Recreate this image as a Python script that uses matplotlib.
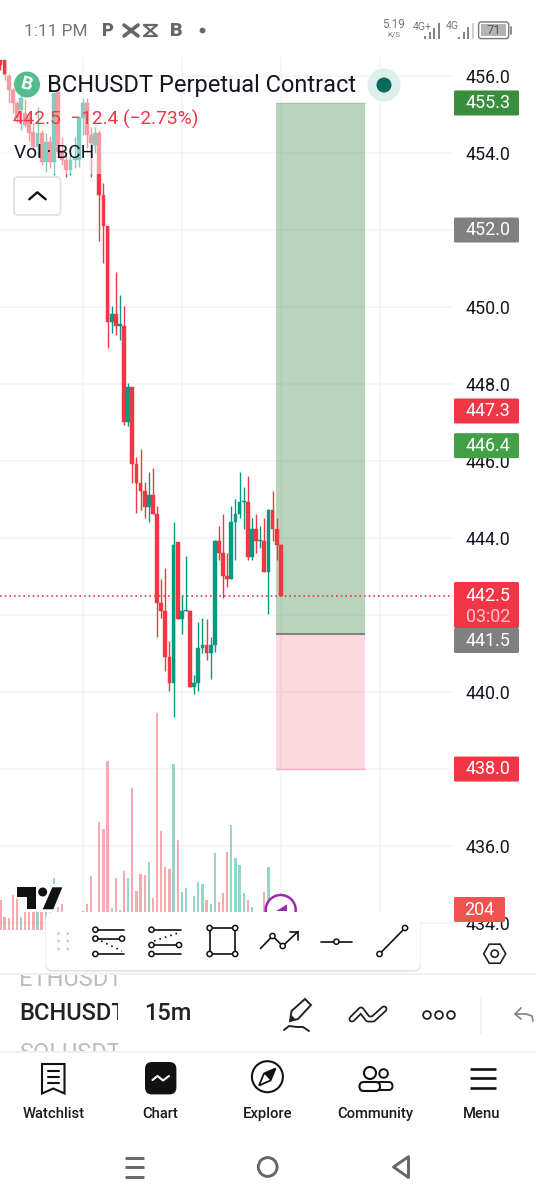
import matplotlib
matplotlib.use('Agg')
import numpy as np
import matplotlib.pyplot as plt
from matplotlib.patches import Rectangle, Circle, FancyBboxPatch, Polygon, RegularPolygon

plt.rcParams['font.family'] = ['Roboto', 'DejaVu Sans']

# 15m candles
opens = [456.42, 456.42, 456.00, 455.64, 455.30, 455.12, 455.04, 454.91, 454.55, 454.16,
         454.52, 453.77, 454.29, 453.77, 455.58, 454.03, 453.82, 453.56, 453.82, 453.82,
         454.91, 455.30, 454.47, 454.21, 454.52, 452.91, 452.11, 449.62, 449.81, 449.52,
         449.52, 447.02, 447.93, 445.92, 445.42, 445.23, 444.81, 445.12, 444.63, 442.32,
         442.11, 440.92, 440.23, 443.90, 441.91, 442.11, 442.11, 440.12, 440.23, 441.14,
         441.22, 441.02, 441.22, 443.92, 443.62, 443.02, 442.93, 444.42, 444.62, 444.93,
         444.93, 443.51, 444.23, 443.92, 443.92, 443.11, 444.73, 444.23, 443.82]
highs = [456.42, 456.42, 456.05, 455.70, 455.35, 455.50, 455.40, 455.04, 454.80, 455.20,
         454.60, 454.52, 454.45, 455.58, 455.65, 454.42, 454.03, 453.95, 454.42, 454.91,
         455.43, 455.43, 454.68, 454.68, 454.60, 453.22, 452.11, 450.03, 450.92, 450.31,
         450.03, 448.03, 447.93, 446.11, 446.30, 445.46, 445.71, 445.83, 444.83, 442.93,
         443.21, 441.32, 444.42, 443.90, 442.52, 443.53, 442.13, 440.44, 441.83, 441.92,
         441.91, 441.43, 443.95, 444.32, 444.62, 443.62, 444.83, 445.01, 445.71, 445.33,
         445.62, 444.51, 444.62, 444.32, 444.51, 444.75, 445.23, 444.51, 443.85]
lows = [456.16, 455.90, 455.30, 455.04, 454.78, 454.60, 454.68, 454.30, 454.05, 453.90,
        453.70, 453.51, 453.60, 453.43, 453.87, 453.69, 453.38, 453.43, 453.61, 453.64,
        454.47, 454.13, 453.38, 454.00, 451.71, 451.14, 448.94, 449.33, 449.27, 449.14,
        446.94, 446.92, 445.44, 444.65, 444.73, 444.53, 444.42, 444.63, 441.44, 441.93,
        440.55, 440.03, 439.34, 441.91, 441.52, 442.11, 440.12, 439.94, 440.03, 441.01,
        440.83, 440.33, 441.03, 443.43, 442.43, 442.72, 442.93, 443.43, 444.53, 444.23,
        443.43, 443.43, 443.62, 443.73, 443.11, 442.03, 443.92, 443.43, 442.50]
closes = [456.29, 456.03, 455.64, 455.30, 454.91, 455.43, 454.73, 454.52, 454.16, 454.52,
          453.77, 454.29, 453.77, 455.56, 454.03, 453.82, 453.56, 453.82, 453.87, 454.91,
          455.30, 454.47, 454.26, 454.52, 452.91, 452.11, 449.62, 449.81, 449.52, 449.56,
          447.02, 447.93, 445.92, 445.42, 445.23, 444.81, 445.12, 444.63, 442.32, 442.11,
          440.92, 440.23, 443.82, 441.91, 442.11, 442.13, 440.12, 440.23, 441.14, 441.22,
          441.02, 441.22, 443.92, 443.62, 443.02, 442.93, 444.42, 444.62, 444.93, 444.95,
          443.51, 444.23, 443.92, 443.95, 443.11, 444.73, 444.23, 443.82, 442.50]
volumes = [300, 135, 118, 350, 310, 127, 300, 260, 300, 220,
           280, 240, 190, 516, 230, 260, 120, 120, 120, 120,
           187, 260, 543, 150, 1080, 1007, 1690, 217, 523, 200,
           587, 523, 1423, 393, 560, 550, 677, 320, 2167, 990,
           633, 607, 1660, 900, 377, 417, 160, 343, 483, 457,
           297, 257, 767, 283, 373, 777, 1047, 723, 650, 373,
           300, 233, 120, 100, 383, 627, 170, 150, 204]

price_ticks = [456, 454, 452, 450, 448, 446, 444, 442, 440, 438, 436, 434]
time_grid = [20, 44, 68, 92]

# long position tool
target_price = 455.3
entry_price = 441.5
stop_price = 438.0
tool_from = 66.85
tool_to = 88.45
last_price = 442.5
countdown = '03:02'

# (price, colour) for the tags on the price scale
order_prices = [455.3, 452.0, 447.3, 446.4, 438.0]
order_colors = ['#388E3C', '#808080', '#F23645', '#43A047', '#F23645']

RED = '#F23645'
TEAL = '#089981'
TEXT = '#131722'

fig = plt.figure(figsize=(5.36, 12), dpi=100, facecolor='white')


def box(x0, x1, y0, y1):
    # pixel box of the screenshot -> figure fractions
    return [x0 / 536, 1 - y1 / 1200, (x1 - x0) / 536, (y1 - y0) / 1200]


# price pane
ax = fig.add_axes(box(0, 453, 57, 930), zorder=1)
ax.set_xlim(-0.097, 109.77)
ax.set_ylim(433.82, 456.494)
for s in ax.spines.values():
    s.set_visible(False)
ax.set_axisbelow(True)
ax.set_xticks(time_grid)
ax.set_xticklabels([])
ax.yaxis.tick_right()
ax.set_yticks(price_ticks)
ax.set_yticklabels([f'{p:.1f}' for p in price_ticks], fontsize=12.9, color=TEXT)
ax.tick_params(length=0, pad=9.4)
ax.grid(color='#F4F4F6', lw=1.1)

idx = np.arange(len(opens))
o = np.array(opens)
c = np.array(closes)
colors = [TEAL if cl >= op else RED for op, cl in zip(opens, closes)]

ax.fill_between([tool_from, tool_to], entry_price, target_price, color='#2E7D32', alpha=0.33, lw=0, zorder=2)
ax.fill_between([tool_from, tool_to], stop_price, entry_price, color=RED, alpha=0.19, lw=0, zorder=2)
ax.hlines(target_price, tool_from, tool_to, color='#A3C7A5', lw=1, zorder=2)
ax.hlines(stop_price, tool_from, tool_to, color='#F5B5BA', lw=1, zorder=2)
ax.hlines(entry_price, tool_from, tool_to, color='#707070', lw=1.2, zorder=2.5)

ax.vlines(idx, lows, highs, color=colors, lw=1.0, zorder=3)
ax.bar(idx, np.abs(c - o), bottom=np.minimum(o, c), width=0.92, color=colors,
       edgecolor=colors, lw=0.3, zorder=3.5)
ax.axhline(last_price, color=RED, lw=1.2, ls=(0, (1, 1.8)), zorder=4)

# volume pane, same pixels, own scale
ax_vol = fig.add_axes(box(0, 453, 57, 930), zorder=2)
ax_vol.set_xlim(ax.get_xlim())
ax_vol.set_ylim(0, 8730)
ax_vol.axis('off')
ax_vol.patch.set_alpha(0)
ax_vol.bar(idx, volumes, width=0.55, color=colors, alpha=0.42, lw=0)

# everything else is app chrome, drawn in screenshot pixels
ui = fig.add_axes([0, 0, 1, 1], zorder=5)
ui.set_xlim(0, 536)
ui.set_ylim(1200, 0)
ui.axis('off')
ui.patch.set_alpha(0)


def price_y(p):
    return ui.transData.inverted().transform(ax.transData.transform((0, p)))[1]


def label(x, y, s, size=12, color=TEXT, ha='center', **kw):
    return ui.text(x, y, s, fontsize=size, color=color, ha=ha, va='center', **kw)


def line(xs, ys, color='#111111', lw=1.5, **kw):
    ui.plot(xs, ys, color=color, lw=lw, solid_capstyle=kw.pop('cap', 'round'), **kw)


def ring(x, y, r=2.6, color='#111111', lw=1.1, face='white', z=9):
    ui.add_patch(Circle((x, y), r, fc=face, ec=color, lw=lw, zorder=z))


def rounded(x0, y0, x1, y1, rad, **kw):
    ui.add_patch(FancyBboxPatch((x0 + rad, y0 + rad), x1 - x0 - 2 * rad, y1 - y0 - 2 * rad,
                                boxstyle=f'round,pad={rad},rounding_size={rad}', **kw))


def clipped(t, x0, y0, x1, y1):
    t.set_clip_path(Rectangle((x0, y0), x1 - x0, y1 - y0, transform=ui.transData))
    t.set_clip_on(True)


# legend fade over the first candles
ui.add_patch(Rectangle((0, 74), 102, 100, fc='white', ec='none', alpha=0.5, zorder=1))
ui.add_patch(Circle((27, 84.5), 13, fc='#55BD8D', ec='none', zorder=2))
label(27, 84.5, 'B', 13, 'white', fontweight='bold', rotation=-14, zorder=3)
label(47, 85.5, 'BCHUSDT Perpetual Contract', 17.05, ha='left', zorder=3)
label(13, 119, '442.5  \u221212.4 (\u22122.73%)', 13.75, RED, ha='left', zorder=3)
label(14, 152.5, 'Vol \u00b7 BCH', 13.75, ha='left', zorder=3)
rounded(14, 177, 60.5, 215, 4, fc='white', ec='#DDDDDD', lw=1.2, zorder=3)
line([29.3, 37.3, 45.7], [199.3, 192.3, 199.3], lw=1.7, zorder=4)
ui.add_patch(Circle((384, 85), 16.5, fc='#DCEFEB', ec='none', zorder=2))
ui.add_patch(Circle((384, 85), 7.5, fc='#0B6B5A', ec='none', zorder=3))

# tradingview mark + the alert bubble
ui.add_patch(Rectangle((18, 884), 38, 28, fc='white', ec='none', zorder=2))
ui.add_patch(Polygon([(17.3, 887.3), (35.7, 887.3), (35.7, 909.3), (27.3, 909.3), (27.3, 896.7), (17.3, 896.7)],
                     fc='#111111', ec='none', zorder=3))
ui.add_patch(Circle((42.7, 892), 4.5, fc='#111111', ec='none', zorder=3))
ui.add_patch(Polygon([(52.3, 887.3), (62.3, 887.3), (53.3, 909.3), (42.7, 909.3)], fc='#111111', ec='none', zorder=3))
ui.add_patch(Circle((280.7, 910), 15, fc='white', ec='#9C27B0', lw=1.8, zorder=3))
ui.add_patch(Polygon([(287, 904.5), (276, 911), (287, 911)], fc='#9C27B0', ec='none', zorder=4))


# price tags
def tag(y0, y1, color, x1=519):
    rounded(454, y0, x1, y1, 1.5, fc=color, ec='none', zorder=4)


for p, col in zip(order_prices, order_colors):
    y = price_y(p)
    tag(y - 12.5, y + 12.5, col)
    label(488, y, f'{p:.1f}', 12.9, 'white', zorder=5)
last_y = price_y(last_price)
tag(582, 628, RED)
label(488, last_y, f'{last_price:.1f}', 12.9, 'white', zorder=5)
label(488, 616.5, countdown, 12.9, '#FFC4C9', zorder=5)
tag(628, 653, '#808080')
label(488, 641, f'{entry_price:.1f}', 12.9, 'white', zorder=5)
tag(897, 922, '#EF5350', x1=505)
label(479.5, 910, str(volumes[-1]), 12.9, 'white', zorder=5)

# bottom panel
ui.add_patch(Rectangle((0, 930), 536, 270, fc='white', ec='none', zorder=6))
line([0, 536], [974, 974], '#EEEEEE', 1.2, zorder=7)
line([0, 536], [1052, 1052], '#EEEEEE', 1.2, zorder=7)
t = label(19, 980, 'ETHUSDT', 17, '#BDBDBD', ha='left', zorder=7)
clipped(t, 0, 975, 118, 1051)
t = label(19, 1013, 'BCHUSDT', 17, '#222222', ha='left', fontweight='medium', zorder=7)
clipped(t, 0, 975, 118, 1051)
t = label(19, 1053, 'SOLUSDT', 17, '#BDBDBD', ha='left', zorder=7)
clipped(t, 0, 975, 118, 1051)
label(168, 1013, '15m', 17, '#222222', fontweight='medium', zorder=7)

# drawing toolbar
rounded(45, 914, 421, 972, 8, fc='#D8D8D8', ec='none', alpha=0.6, zorder=7)
rounded(45.5, 912, 420.5, 970, 8, fc='white', ec='none', zorder=8)
for gx in [58.5, 67.7]:
    for gy in [933.5, 941, 949]:
        ui.add_patch(Circle((gx, gy), 1.3, fc='#C4C4C4', ec='none', zorder=9))
k = dict(zorder=9, lw=1.2)
line([95.4, 124], [929.7, 929.7], **k)
line([95.4, 122], [938.6, 938.6], **k)
line([95.4, 124], [954, 954], **k)
line([101, 122], [941, 951], ls=(0, (1, 2.4)), **k)
for x, y in [(95.4, 929.7), (95.4, 938.6), (122, 938.6), (95.4, 954)]:
    ring(x, y)
line([151.5, 180.5], [929.7, 929.7], **k)
line([151.5, 179], [945, 945], **k)
line([151.5, 180.5], [954, 954], **k)
line([154, 179.5], [941, 932.5], ls=(0, (1, 2.4)), **k)
for x, y in [(151.5, 929.7), (151.5, 945), (179, 945), (151.5, 954)]:
    ring(x, y)
line([209.6, 235.2, 235.2, 209.6, 209.6], [928, 928, 954, 954, 928], **k)
for x, y in [(209.6, 928), (235.2, 928), (209.6, 954), (235.2, 954)]:
    ring(x, y)
line([260.5, 272.5, 282.7, 298], [948.5, 936, 946, 931.5], **k)
line([289.5, 298, 298], [931.5, 931.5, 940], **k)
ring(272.5, 936)
ring(282.7, 946)
line([321, 352], [941.7, 941.7], **k)
ring(336.4, 941.7)
line([379.5, 405], [954, 928], **k)
ring(379.5, 954)
ring(405, 928)
ui.add_patch(RegularPolygon((494.7, 953.7), 6, radius=11, orientation=np.pi / 2, fc='white', ec='#222222', lw=1.2, zorder=9))
ring(494.7, 953.7, 3.6, '#222222', 1.2)

# chart controls row
ui.add_patch(Polygon([(290, 1021), (291.5, 1011), (305, 999), (311, 1005), (298, 1019)], fc='white', ec='#222222', lw=1.4, zorder=7))
ui.add_patch(Polygon([(290, 1021), (291.5, 1015), (296, 1020)], fc='#222222', ec='none', zorder=8))
line([284, 289, 297, 303, 309], [1030, 1026, 1027, 1027, 1031], '#222222', 1.4, zorder=7)
line([352, 361, 368, 373, 384], [1019, 1010, 1019, 1019, 1009], '#222222', 5, zorder=7)
line([352, 361, 368, 373, 384], [1019, 1010, 1019, 1019, 1009], 'white', 2.4, zorder=7.5)
for x in [427, 439, 451]:
    ring(x, 1015, 3.9, '#222222', 1.3, z=7)
line([481, 481], [997, 1033], '#EEEEEE', 1.1, zorder=7)
line([533, 532, 526, 515], [1021, 1016, 1014, 1014], '#888888', 1.3, zorder=7)
line([521, 515, 521], [1008, 1014, 1019], '#888888', 1.3, zorder=7)

# main tabs
tab_names = ['Watchlist', 'Chart', 'Explore', 'Community', 'Menu']
tab_x = [53.6, 160, 268, 375, 482]
for name, x in zip(tab_names, tab_x):
    label(x, 1114, name, 10.6, '#1A1A1A', fontweight='medium', zorder=7)
ui.add_patch(Polygon([(42, 1064), (64.5, 1064), (64.5, 1093.5), (53.3, 1088.5), (42, 1093.5)], fc='white', ec='#111111', lw=1.5, zorder=7))
for y in [1071, 1077, 1083]:
    line([47.5, 59], [y, y], lw=1.5, zorder=8)
rounded(145, 1062, 176.4, 1094.4, 7, fc='#111111', ec='none', zorder=7)
line([152.5, 157.5, 163, 169], [1080, 1076, 1080.5, 1076], 'white', 1.5, zorder=8)
ring(267.4, 1076.7, 15.5, '#111111', 1.5, z=7)
ui.add_patch(Polygon([(275.5, 1068.5), (270.5, 1080.5), (259, 1085.5), (264, 1073.5)], fc='white', ec='#111111', lw=1.3, zorder=8))
ui.add_patch(Polygon([(275.5, 1068.5), (270.5, 1080.5), (264, 1073.5)], fc='#111111', ec='none', zorder=8))
ring(370, 1073, 6, '#111111', 1.5, z=7)
ring(383.6, 1073.5, 4.3, '#111111', 1.4, z=7)
rounded(376, 1082, 392.5, 1090, 4, fc='white', ec='#111111', lw=1.4, zorder=7)
rounded(359.5, 1082, 380, 1091, 4.4, fc='white', ec='#111111', lw=1.5, zorder=8)
for y in [1068.8, 1078, 1087.6]:
    line([470, 496.4], [y, y], lw=1.9, cap='butt', zorder=7)

# android nav
for y in [1157.7, 1167, 1176.8]:
    line([124.8, 143.6], [y, y], '#666666', 2.1, cap='butt', zorder=7)
ring(267.7, 1167, 9.4, '#666666', 2.1, z=7)
ui.add_patch(Polygon([(408.5, 1156.7), (393.5, 1167), (408.5, 1177.5)], fc='white', ec='#666666', lw=2.1, joinstyle='round', zorder=7))

# status bar
GR = '#777777'
label(24.5, 31, '1:11 PM', 12.4, GR, ha='left')
label(107.5, 30.5, 'P', 13, '#666666', fontweight='black')
line([124, 138], [25, 36], '#666666', 2.6)
line([124, 138], [36, 25], '#666666', 2.6)
line([144, 157, 144, 157, 144], [25, 25, 36, 36, 25], '#666666', 1.6)
label(176, 30.5, 'B', 14, '#666666', fontweight='black')
ui.add_patch(Circle((202.5, 30.5), 2.9, fc='#666666', ec='none'))
label(394, 24.5, '5.19', 8.4, GR)
label(394, 34.5, 'K/S', 5.8, GR)
label(422, 26.5, '4G+', 7.6, GR)
label(452, 26, '4G', 7.6, GR)
for x, h in zip([425, 430, 434.4, 439], [3, 7, 11, 16]):
    line([x, x], [38.6, 38.6 - h], GR, 1.3, cap='butt')
for x, h, col in zip([458.8, 464, 468.4, 472.5], [2, 7, 12, 16], [GR, GR, GR, '#CCCCCC']):
    line([x, x], [38.6, 38.6 - h], col, 1.3, cap='butt')
rounded(478.6, 22, 508.7, 38.6, 2.5, fc='white', ec=GR, lw=1)
ui.add_patch(Rectangle((481, 24.3), 25.3, 12, fc='#B4B4B4', ec='none'))
label(493.5, 30.8, '71', 9.4, '#555555')
line([511.3, 511.3], [27, 34], GR, 1.2)

fig.savefig('out.png', dpi=100, facecolor='white')
